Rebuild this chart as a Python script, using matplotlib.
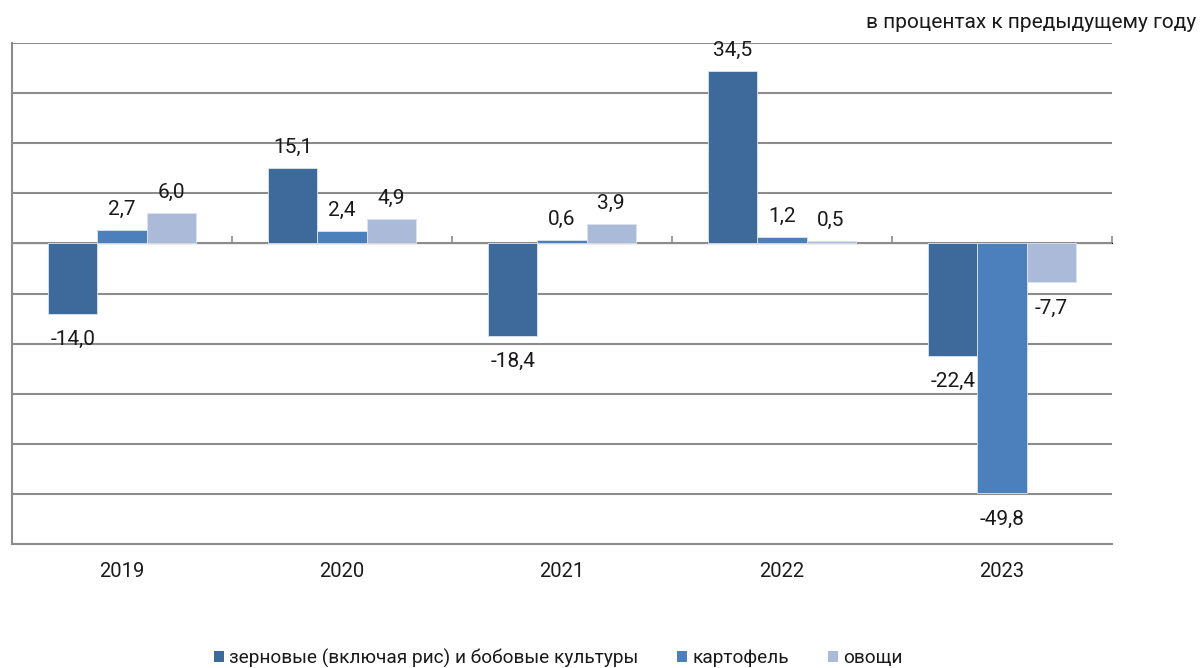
import matplotlib
matplotlib.use('Agg')
import matplotlib.pyplot as plt
from matplotlib.patches import Patch
import numpy as np

plt.rcParams['font.family'] = ['Roboto', 'DejaVu Sans']

years = ['2019', '2020', '2021', '2022', '2023']
series_names = ['зерновые (включая рис) и бобовые культуры', 'картофель', 'овощи']
grain = [-14.0, 15.1, -18.4, 34.5, -22.4]
potato = [2.7, 2.4, 0.6, 1.2, -49.8]
vegetables = [6.0, 4.9, 3.9, 0.5, -7.7]
colors = ['#3E6A9B', '#4C80BC', '#AABAD8']
unit_note = 'в процентах к предыдущему году'

fig = plt.figure(figsize=(12.04, 6.68), dpi=100)
ax = fig.add_axes([12 / 1204, 1 - 544 / 668, 1100 / 1204, 501 / 668])

x = np.arange(len(years))
width = 0.223
grid_col = '#8C8C8C'
text_col = '#1A1A1A'

for i, (vals, col) in enumerate(zip([grain, potato, vegetables], colors)):
    pos = x + (i - 1) * width
    ax.bar(pos, vals, width, color=col, edgecolor='#DCE4F0', linewidth=0.6, zorder=3)
    for px, v in zip(pos, vals):
        label = f'{v:.1f}'.replace('.', ',')
        if v >= 0:
            ax.annotate(label, (px, v), xytext=(0, 8), textcoords='offset points',
                        ha='center', va='bottom', fontsize=15, color=text_col, zorder=4)
        else:
            ax.annotate(label, (px, v), xytext=(0, -12), textcoords='offset points',
                        ha='center', va='top', fontsize=15, color=text_col, zorder=4)

ax.set_xlim(-0.5, len(years) - 0.5)
ax.set_ylim(-60, 40)
ax.set_yticks(np.arange(-60, 41, 10))
ax.yaxis.grid(True, color=grid_col, linewidth=1.5, zorder=0)
ax.tick_params(axis='y', length=0, labelleft=False)
ax.set_xticks(x)
ax.set_xticklabels(years, fontsize=14.5, color=text_col)
ax.tick_params(axis='x', length=0, pad=13)

for s in ['top', 'right']:
    ax.spines[s].set_visible(False)
for s in ['left', 'bottom']:
    ax.spines[s].set_color(grid_col)
    ax.spines[s].set_linewidth(1.5)

# zero line with category boundary ticks
zero_ax = ax.secondary_xaxis(60 / 100)
zero_ax.set_xticks(np.arange(0.5, len(years), 1.0))
zero_ax.set_xticklabels([])
zero_ax.tick_params(axis='x', direction='out', length=5, width=1.2, color=grid_col)
zero_ax.spines['bottom'].set_color(grid_col)
zero_ax.spines['bottom'].set_linewidth(1.5)

fig.text(1196 / 1204, 1 - 22 / 668, unit_note, ha='right', va='center', fontsize=15, color=text_col)

handles = [Patch(facecolor=c, edgecolor='none') for c in colors]
fig.legend(handles, series_names, loc='center', bbox_to_anchor=(558 / 1204, 1 - 658 / 668),
           ncol=3, frameon=False, fontsize=13.7, handlelength=0.55, handleheight=0.55,
           handletextpad=0.25, columnspacing=2.05, labelcolor=text_col)

fig.savefig('out.png', dpi=100)
